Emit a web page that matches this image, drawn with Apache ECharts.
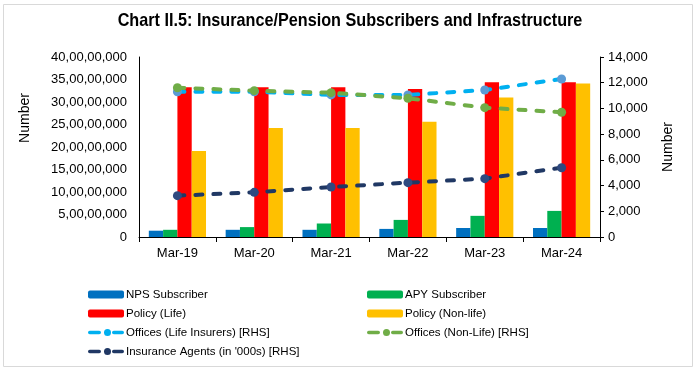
<!DOCTYPE html>
<html><head><meta charset="utf-8">
<script src="https://cdn.jsdelivr.net/npm/echarts@6/dist/echarts.min.js"></script>
<style>html,body{margin:0;padding:0;background:#fff}#c{width:700px;height:373px}</style>
</head><body><div id="c"></div>
<script>
const categories = ['Mar-19','Mar-20','Mar-21','Mar-22','Mar-23','Mar-24'];
const npsSubscriber = [14000000, 16000000, 16000000, 18000000, 20000000, 20000000];
const apySubscriber = [16000000, 22000000, 30000000, 38000000, 47000000, 58000000];
const policyLife = [333000000, 333000000, 333000000, 329000000, 344000000, 344000000];
const policyNonLife = [191000000, 242000000, 242000000, 256000000, 310000000, 341000000];
const officesLife = [11300, 11300, 11050, 11050, 11430, 12290];
const officesNonLife = [11610, 11380, 11225, 10790, 10060, 9700];
const insuranceAgents = [3215, 3475, 3890, 4225, 4540, 5390];
const leftTickLabels = ['0','5,00,00,000','10,00,00,000','15,00,00,000','20,00,00,000','25,00,00,000','30,00,00,000','35,00,00,000','40,00,00,000'];
const rightTickLabels = ['0','2,000','4,000','6,000','8,000','10,000','12,000','14,000'];

const FONT = 'Liberation Sans, Arial, sans-serif';
const LINE_ICON = 'path://M1.75,2.25H11.25A1.75,1.75,0,0,1,11.25,5.75H1.75A1.75,1.75,0,0,1,1.75,2.25Z M16,4A3.5,3.5,0,1,0,23,4A3.5,3.5,0,1,0,16,4Z M25.75,2.25H34.25A1.75,1.75,0,0,1,34.25,5.75H25.75A1.75,1.75,0,0,1,25.75,2.25Z M0,0H0.01V0.01H0Z M36,8H35.99V7.99H36Z';
const chart = echarts.init(document.getElementById('c'), null, {renderer:'canvas'});
const bar = (name, data, color) => ({
  name, type:'bar', data, yAxisIndex:0, barWidth:14.3, barGap:'0%',
  itemStyle:{color}, z:2
});
const line = (name, data, color, mcolor) => ({
  name, type:'line', data, yAxisIndex:1, symbol:'circle', symbolSize:9,
  color,
  lineStyle:{color, width:4, type:[7,11], cap:'round'},
  itemStyle:{color:mcolor}, z:5
});
const legItem = (name, color) => ({name, icon:LINE_ICON, itemStyle:{color}});
chart.setOption({
  animation:false,
  graphic:[
    {type:'rect', shape:{x:3.5,y:4.5,width:689,height:362}, style:{fill:null, stroke:'#d9d9d9', lineWidth:1}, silent:true},
    {type:'text', x:350, y:21, scaleX:0.853, style:{text:'Chart II.5: Insurance/Pension Subscribers and Infrastructure', fontFamily:FONT, fontWeight:'bold', fontSize:19, fill:'#000', align:'center', verticalAlign:'middle'}},
    {type:'text', x:25, y:118, rotation:Math.PI/2, style:{text:'Number', fontFamily:FONT, fontSize:14, fill:'#000', align:'center', verticalAlign:'middle'}},
    {type:'text', x:668, y:147, rotation:Math.PI/2, style:{text:'Number', fontFamily:FONT, fontSize:14, fill:'#000', align:'center', verticalAlign:'middle'}}
  ],
  grid:{left:139, right:100, top:57, bottom:136, containLabel:false},
  legend:[
    {left:83, top:283, orient:'vertical', itemWidth:36, itemHeight:8, itemGap:6,
      textStyle:{fontFamily:FONT, fontSize:11.5, color:'#000', padding:[0,0,0,-3], lineHeight:13},
      data:['NPS Subscriber','Policy (Life)', legItem('Offices (Life Insurers) [RHS]', '#00B0F0'), legItem("Insurance Agents (in '000s) [RHS]", '#203864')]},
    {left:362, top:283, orient:'vertical', itemWidth:36, itemHeight:8, itemGap:6,
      textStyle:{fontFamily:FONT, fontSize:11.5, color:'#000', padding:[0,0,0,-3], lineHeight:13},
      data:['APY Subscriber','Policy (Non-life)', legItem('Offices (Non-Life) [RHS]', '#70AD47')]}
  ],
  xAxis:{type:'category', data:categories,
    axisLine:{lineStyle:{color:'#000', width:1}},
    axisTick:{show:true, length:5, lineStyle:{color:'#000'}},
    axisLabel:{fontFamily:FONT, fontSize:13, color:'#000', margin:10}},
  yAxis:[
    {type:'value', min:0, max:400000000, interval:50000000,
      axisLine:{show:true, lineStyle:{color:'#000'}}, axisTick:{show:false},
      splitLine:{show:false},
      axisLabel:{fontFamily:FONT, fontSize:13, color:'#000', margin:12,
        formatter:(v)=>leftTickLabels[Math.round(v/50000000)]}},
    {type:'value', min:0, max:14000, interval:2000, position:'right',
      axisLine:{show:true, lineStyle:{color:'#000'}},
      axisTick:{show:true, length:4, lineStyle:{color:'#000'}},
      splitLine:{show:false},
      axisLabel:{fontFamily:FONT, fontSize:13, color:'#000', margin:8,
        formatter:(v)=>rightTickLabels[Math.round(v/2000)]}}
  ],
  series:[
    bar('NPS Subscriber', npsSubscriber, '#0070C0'),
    bar('APY Subscriber', apySubscriber, '#00B050'),
    bar('Policy (Life)', policyLife, '#FF0000'),
    bar('Policy (Non-life)', policyNonLife, '#FFC000'),
    line('Offices (Life Insurers) [RHS]', officesLife, '#00B0F0', '#5B9BD5'),
    line('Offices (Non-Life) [RHS]', officesNonLife, '#70AD47', '#70AD47'),
    line("Insurance Agents (in '000s) [RHS]", insuranceAgents, '#203864', '#2F4A80')
  ]
});
</script></body></html>
